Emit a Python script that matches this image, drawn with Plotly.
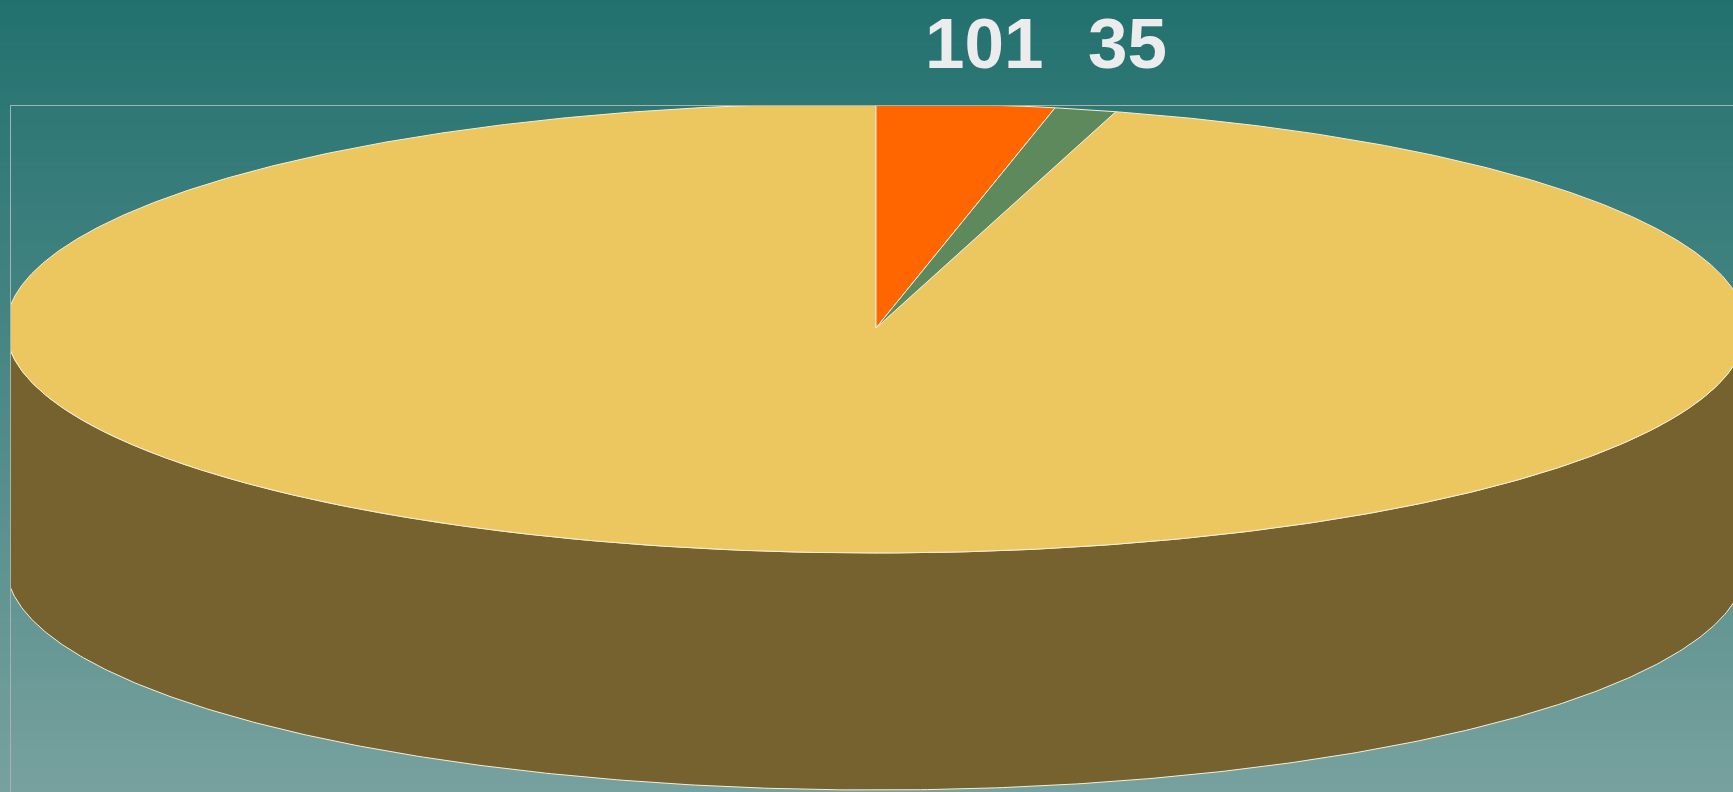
import numpy as np
import plotly.graph_objects as go

# ---- data ----
slice_names = ["Slice 1", "Slice 2", "Slice 3"]
slice_values = [101, 35, 2924]
slice_labels = ["101", "35", ""]

# ---- styles ----
slice_colors = ["#ff6600", "#5e895d", "#ecc65f"]
wall_color = "#76622f"
edge_color = "#f6eed6"
W, H = 1733, 792
cx, cy, rx, ry, depth = 876.0, 328.0, 870.0, 225.0, 237.0


def ell(theta_deg, dy=0.0):
    t = np.radians(theta_deg)
    return cx + rx * np.sin(t), cy - ry * np.cos(t) + dy


fig = go.Figure()

# side wall (front half)
t_front = np.linspace(90, 270, 400)
x_top, y_top = ell(t_front)
x_bot, y_bot = ell(t_front[::-1], depth)
fig.add_trace(go.Scatter(
    x=np.concatenate([x_top, x_bot, x_top[:1]]),
    y=np.concatenate([y_top, y_bot, y_top[:1]]),
    mode="lines", fill="toself", fillcolor=wall_color,
    line=dict(color=edge_color, width=1), hoverinfo="skip", showlegend=False))

# top slices
total = float(sum(slice_values))
bounds = np.concatenate([[0.0], np.cumsum(slice_values) / total * 360.0])
order = [2, 0, 1]
for i in order:
    a0, a1 = bounds[i], bounds[i + 1]
    n = max(int((a1 - a0) * 4), 8)
    t = np.linspace(a0, a1, n)
    ax_, ay_ = ell(t)
    fig.add_trace(go.Scatter(
        x=np.concatenate([[cx], ax_, [cx]]),
        y=np.concatenate([[cy], ay_, [cy]]),
        mode="lines", fill="toself", fillcolor=slice_colors[i],
        line=dict(color=edge_color, width=1), name=slice_names[i],
        text=f"{slice_names[i]}: {slice_values[i]}", hoverinfo="text",
        showlegend=False))

# value labels above slices
for i, lab in enumerate(slice_labels):
    if not lab:
        continue
    mid = np.radians((bounds[i] + bounds[i + 1]) / 2)
    lx = cx + 1.2 * rx * np.sin(mid)
    fig.add_annotation(
        x=lx, xref="x", y=(H - 43) / (H - 106), yref="paper",
        text=lab, showarrow=False, xanchor="center", yanchor="middle",
        font=dict(family="Liberation Sans, Arial, sans-serif", size=71,
                  color="#ececec", weight="bold"))

# gradient background stripes
top_rgb = np.array([34, 113, 111])
bot_rgb = np.array([119, 161, 158])
n_str = 132
ph = H - 106
for k in range(n_str):
    y0p = k * H / n_str
    y1p = (k + 1) * H / n_str
    f = (y0p + y1p) / 2 / H
    c = top_rgb + (bot_rgb - top_rgb) * f
    fig.add_shape(type="rect", xref="paper", yref="paper",
                  x0=-11 / (W - 11) - 0.01, x1=1.01,
                  y0=(H - y1p - 0.5) / ph, y1=(H - y0p + 0.5) / ph,
                  fillcolor=f"rgb({c[0]:.0f},{c[1]:.0f},{c[2]:.0f})",
                  line=dict(width=0), layer="below")

fig.update_layout(
    width=W, height=H,
    margin=dict(l=11, r=0, t=106, b=0),
    paper_bgcolor="rgb(34,113,111)", plot_bgcolor="rgba(0,0,0,0)",
    xaxis=dict(range=[11, W], side="top", showline=True, linecolor="#a2b3b1", linewidth=1,
               showgrid=False, zeroline=False, showticklabels=False, ticks="", fixedrange=True),
    yaxis=dict(range=[H, 106], showline=True, linecolor="#a2b3b1", linewidth=1,
               showgrid=False, zeroline=False, showticklabels=False, ticks="", fixedrange=True),
    showlegend=False,
)

fig.write_html("out.html", config={"displayModeBar": False},
               post_script="document.body.style.margin='0';document.body.style.overflow='hidden';"
                           "document.body.style.background='rgb(34,113,111)';")
